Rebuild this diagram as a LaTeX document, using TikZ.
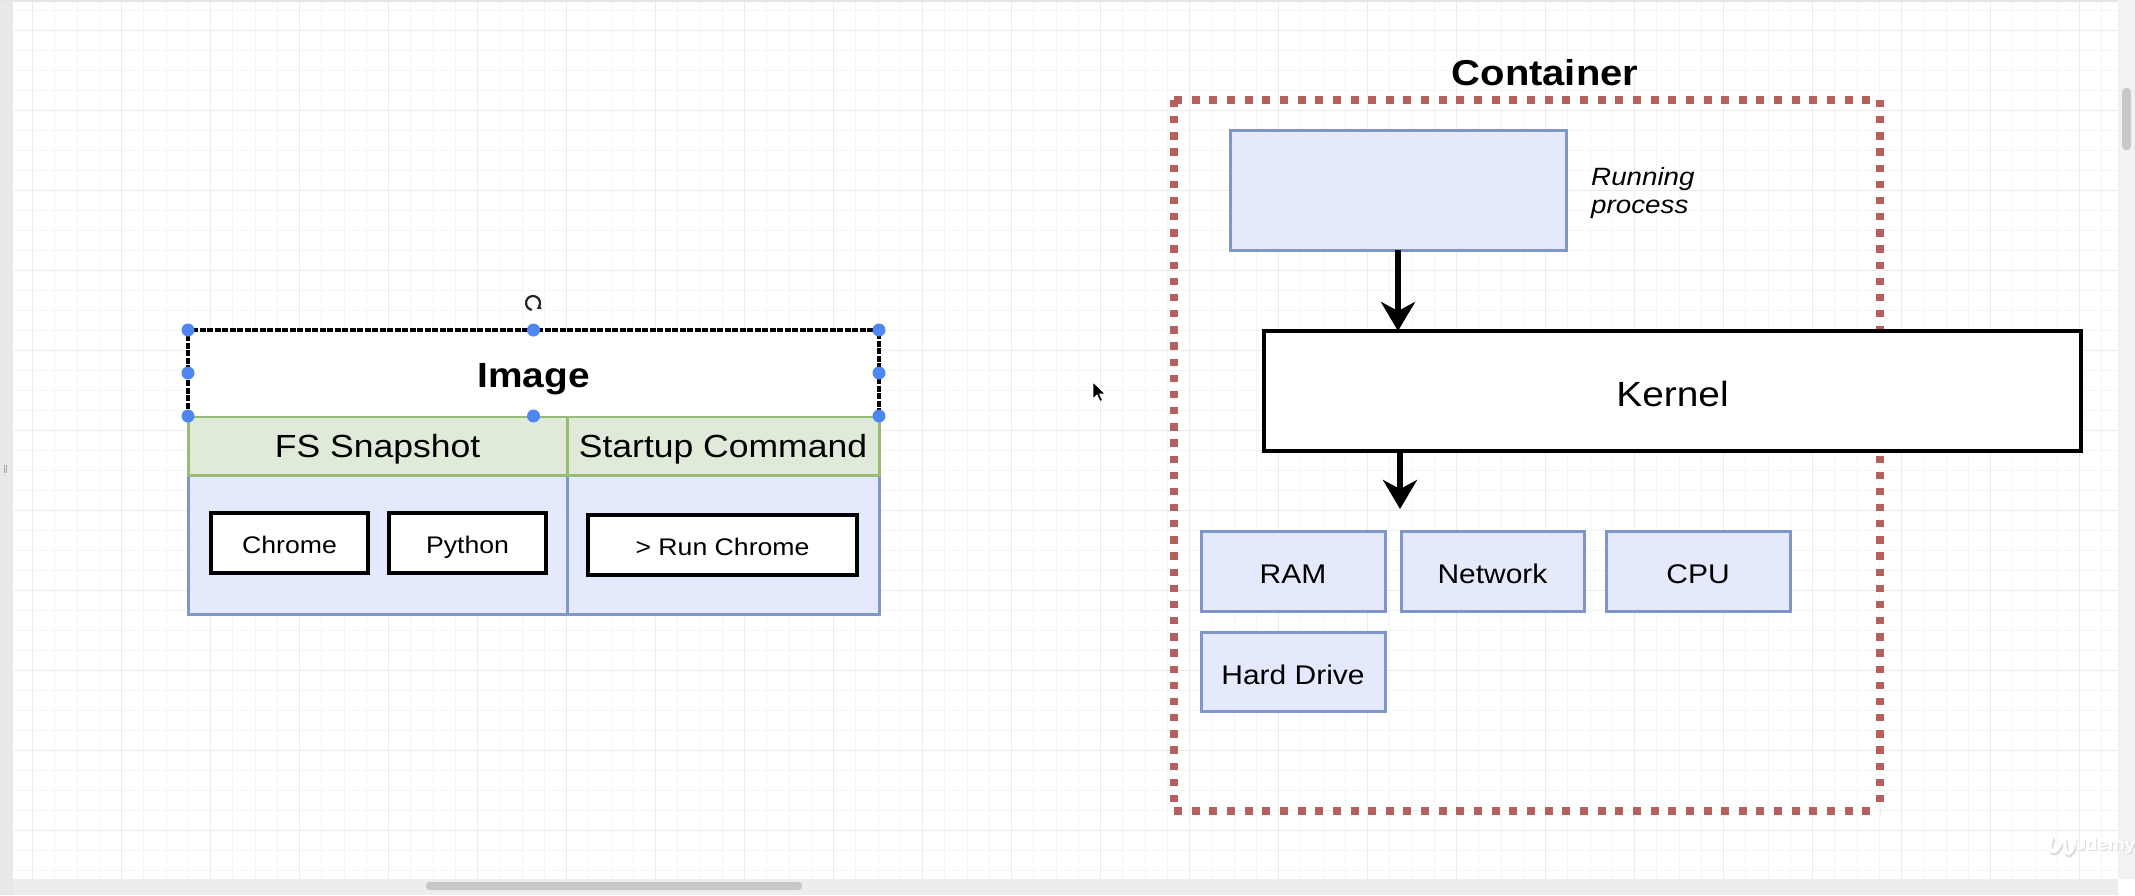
\documentclass[tikz,border=0pt]{standalone}
\usepackage{fontspec}
\setmainfont{Liberation Sans}[FakeStretch=1.11]
\usetikzlibrary{arrows.meta}
\definecolor{bfill}{HTML}{E4E9FB}
\definecolor{bline}{HTML}{8096C8}
\definecolor{gfill}{HTML}{E0EAD8}
\definecolor{gline}{HTML}{98BC78}
\definecolor{cred}{HTML}{B5605C}
\definecolor{gmaj}{HTML}{EBEBEB}
\definecolor{gmin}{HTML}{F5F5F5}
\definecolor{hblue}{HTML}{4F87F2}
\definecolor{sbar}{HTML}{C8C8C8}
\newcommand{\mkbox}[7]{\node[#2, px, minimum width={#5-#3}, minimum height={#6-#4}] (#1) at (#3,#4) {#7};}
\begin{document}
\begin{tikzpicture}[x=1pt,y=-1pt,
  px/.style={outer sep=0pt, inner sep=0pt, anchor=north west},
  bluebox/.style={draw=bline, fill=bfill, line width=3pt},
  greenbox/.style={draw=gline, fill=gfill, line width=3pt},
  blackbox/.style={draw=black, fill=white, line width=3.5pt},
  hdr/.style={draw=none, fill=white},
  kernbox/.style={draw=black, fill=white, line width=4pt},
  sel/.style={draw=black, line width=3.2pt, dash pattern=on 6pt off 1.5pt},
  handle/.style={fill=hblue},
  dotH/.style={draw=cred, line width=7.5pt, dash pattern=on 8pt off 9.65pt},
  dotV/.style={draw=cred, line width=8pt, dash pattern=on 7.3pt off 8.86pt},
  arr/.style={line width=5.5pt, -{Stealth[length=29pt, width=34pt, inset=9pt]}},
  fImg/.style={font=\fontsize{35}{40}\selectfont\bfseries, text height=29pt, text depth=0pt},
  fCont/.style={font=\fontsize{36}{40}\selectfont\bfseries},
  fHead/.style={font=\fontsize{32}{36}\selectfont, text height=24pt, text depth=0pt},
  fSmall/.style={font=\fontsize{24}{28}\selectfont, text height=21pt, text depth=0pt},
  fKern/.style={font=\fontsize{35}{40}\selectfont, text height=30pt, text depth=0pt},
  fHw/.style={font=\fontsize{27}{32}\selectfont, text height=25pt, text depth=0pt},
  fRun/.style={font=\fontsize{25}{28}\selectfont\itshape},
]
\useasboundingbox (0,0) rectangle (2135,895);
% frame and canvas
\fill[white] (0,0) rectangle (2135,895);
\begin{scope}
  \clip (13,2) rectangle (2118,879);
  \foreach \i in {0,...,95} \draw[gmin, line width=1pt] ({10.45+22.25*\i},0) -- ({10.45+22.25*\i},895);
  \foreach \i in {0,...,44} \draw[gmin, line width=1pt] (0,{10+20*\i}) -- (2135,{10+20*\i});
  \foreach \i in {0,...,23} \draw[gmaj, line width=1pt] ({32.7+89*\i},0) -- ({32.7+89*\i},895);
  \foreach \i in {0,...,11} \draw[gmaj, line width=1pt] (0,{30+80*\i}) -- (2135,{30+80*\i});
\end{scope}
\fill[gray!18] (0,0) rectangle (13,895);
\fill[gray!20] (0,0) rectangle (2135,2);
\fill[gray!14] (13,879) rectangle (2118,895);
\fill[gray!10] (2118,0) rectangle (2135,879);
\fill[sbar, rounded corners=3.5pt] (426,882) rectangle (802,890);
\fill[sbar, rounded corners=4pt] (2122,88) rectangle (2131,150);
\draw[gray!70, line width=0.7pt] (4,465) -- (4,473) (6.8,465) -- (6.8,473);

% ---------- Image ----------
\mkbox{blueL}{bluebox}{188}{475}{567}{614}{}
\mkbox{blueR}{bluebox}{567}{475}{879}{614}{}
\mkbox{fs}{greenbox, fHead}{188}{416}{567}{475}{FS Snapshot}
\mkbox{startup}{greenbox, fHead}{567}{416}{879}{475}{Startup Command}
\mkbox{imghead}{hdr, fImg}{188}{330}{879}{416}{Image}
\mkbox{chrome}{blackbox, fSmall}{211}{513}{368}{573}{Chrome}
\mkbox{python}{blackbox, fSmall}{389}{513}{546}{573}{Python}
\mkbox{runchrome}{blackbox, fSmall}{588}{515}{857}{575}{> Run Chrome}
% selection indicator
\draw[sel] (imghead.south west) -- (imghead.north west) -- (imghead.north east) -- (imghead.south east);
\foreach \a in {north west, north, north east, west, east, south west, south, south east}
  \fill[handle] (imghead.\a) circle[radius=6.5];
\coordinate (rot) at (533,303);
\draw[black!85, line width=2.2pt, -{Latex[length=4.5pt, width=6pt]}]
  ([shift={(100:7)}]rot) arc[start angle=100, end angle=420, radius=7];

% ---------- Container ----------
\node[px, minimum width=706, minimum height=711] (cont) at (1174,100) {};
\draw[dotH] (cont.north west) -- (cont.north east);
\draw[dotH] (cont.south west) -- (cont.south east);
\draw[dotV] (cont.north west) -- (cont.south west);
\draw[dotV] (cont.north east) -- (cont.south east);
\node[fCont, anchor=base] (contlabel) at (1545,85) {Container};
\mkbox{run}{bluebox}{1230}{130}{1566}{250}{}
\node[fRun, align=left, inner sep=0pt, anchor=north west] (runlabel) at (1591,167) {Running\\process};
\mkbox{kern}{kernbox, fKern}{1264}{331}{2081}{451}{Kernel}
\mkbox{ram}{bluebox, fHw}{1201}{531}{1385}{611}{RAM}
\mkbox{net}{bluebox, fHw}{1401}{531}{1584}{611}{Network}
\mkbox{cpu}{bluebox, fHw}{1606}{531}{1790}{611}{CPU}
\mkbox{hdd}{bluebox, fHw}{1201}{632}{1385}{711}{Hard Drive}
\draw[arr] (run.south) -- (run.south |- kern.north);
\coordinate (hwtip) at (1400,509);
\draw[arr] (kern.south -| hwtip) -- (hwtip);

% ---------- cursor ----------
\filldraw[fill=black, draw=white, line width=0.8pt] (1093,382) -- ++(0,17) -- ++(4,-4) -- ++(3,6.5) -- ++(2.6,-1.2) -- ++(-3,-6.3) -- ++(5.6,0) -- cycle;

% ---------- watermark ----------
\node[font=\fontsize{17}{20}\selectfont\bfseries, text=gray!30] (udemyshadow) at (2105,847.5) {Udemy};
\node[font=\fontsize{17}{20}\selectfont\bfseries, text=white] (udemy) at (2104,846) {Udemy};
\draw[gray!30, line width=4.5pt, line cap=round] (2053,840) .. controls (2047,852) and (2055,858) .. (2060,848) .. controls (2064,838) and (2066,838) .. (2066,850) .. controls (2067,858) and (2072,856) .. (2074,848);
\draw[white, line width=3.5pt, line cap=round] (2052,838.5) .. controls (2046,850.5) and (2054,856.5) .. (2059,846.5) .. controls (2063,836.5) and (2065,836.5) .. (2065,848.5) .. controls (2066,856.5) and (2071,854.5) .. (2073,846.5);
\end{tikzpicture}
\end{document}
